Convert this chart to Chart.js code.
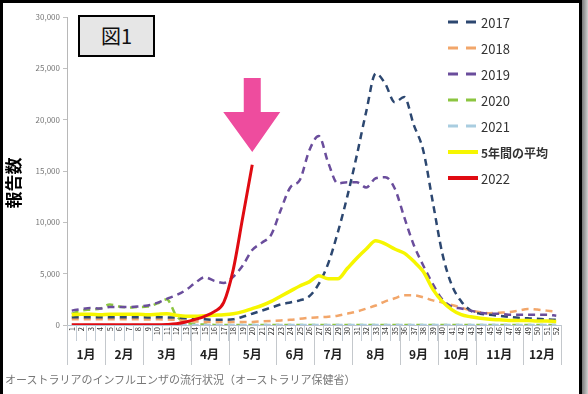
<!DOCTYPE html>
<html>
<head>
<meta charset="utf-8">
<script src="https://cdn.jsdelivr.net/npm/chart.js@4/dist/chart.umd.min.js"></script>
<style>
html, body { margin:0; padding:0; background:#fff; width:588px; height:394px; overflow:hidden;
  font-family:"Noto Sans CJK JP","Noto Sans",sans-serif; }
#frame { position:absolute; left:0; top:0; width:576px; height:400px; border:3px solid #000; border-bottom:none; }
#shadow { position:absolute; left:582px; top:0; width:6px; height:394px; background:linear-gradient(to right,#777,#d0d0d0); }
#chart { position:absolute; left:0; top:0; }
#fig { position:absolute; left:78px; top:15px; width:73px; height:38px; border:2px solid #000; background:#e6e6e6;
  font-size:20px; line-height:38px; text-align:center; color:#111; }
#cap { position:absolute; left:5px; top:371px; font-size:11px; color:#777; white-space:nowrap; }
</style>
</head>
<body>
<div id="frame"></div>
<div id="shadow"></div>
<canvas id="chart" width="580" height="372"></canvas>
<div id="fig">図1</div>
<div id="cap">オーストラリアのインフルエンザの流行状況（オーストラリア保健省）</div>
<script>
// Data (weekly reports)
const weeks = ['1','2','3','4','5','6','7','8','9','10','11','12','13','14','15','16','17','18','19','20',
  '21','22','23','24','25','26','27','28','29','30','31','32','33','34','35','36','37','38','39','40',
  '41','42','43','44','45','46','47','48','49','50','51','52'];
const months = ['1月','2月','3月','4月','5月','6月','7月','8月','9月','10月','11月','12月'];
const monthWeeks = [4,4,5,4,5,4,4,5,4,4,5,4];
const yTicks = [0,5000,10000,15000,20000,25000,30000];

const y2017 = [750,750,760,750,750,760,750,750,740,750,740,720,650,600,550,500,500,550,800,1100,
  1400,1700,2000,2200,2400,2800,4000,6000,9000,12500,16500,20800,24500,23500,21700,22200,19500,17000,12000,7000,
  3900,2300,1400,1100,1000,900,800,700,650,600,550,500];
const y2018 = [550,550,560,550,550,560,550,550,540,550,540,500,400,350,300,300,300,300,300,300,
  350,400,450,500,600,700,750,800,900,1100,1300,1600,1900,2300,2600,2900,2900,2700,2400,2200,
  1950,1700,1400,1250,1150,1200,1250,1400,1550,1500,1400,1300];
const y2019 = [1400,1550,1650,1600,1750,1750,1750,1800,1900,2150,2550,2900,3400,4100,4650,4300,4100,4700,5800,7300,
  8000,8800,11200,13400,14100,17000,18400,15800,13800,13900,13900,13400,14300,14400,13300,10500,7800,5800,4000,2500,
  1800,1600,1400,1200,1100,1100,1000,1000,1000,1000,1000,900];
const y2020 = [1100,1400,1500,1600,2000,1800,1700,1750,1800,2100,2500,900,250,100,40,10,0,0,0,0,
  0,0,0,0,0,0,0,0,0,0,0,0,0,0,0,0,0,0,0,0,
  0,0,0,0,0,0,0,0,0,0,0,0];
const y2021 = [0,0,0,0,0,0,0,0,0,0,0,0,0,0,0,0,0,0,0,0,
  0,0,0,0,0,0,0,0,0,0,0,0,0,0,0,0,0,0,0,0,
  0,0,0,0,0,0,0,0,0,0,0,0];
const avg5 = [1000,1050,1050,1000,1050,1050,1050,1050,1000,1050,1100,950,850,850,900,950,1000,1100,1300,1600,
  1900,2300,2800,3300,3800,4200,4800,4500,4500,5500,6500,7400,8200,7900,7400,7000,6200,5200,3500,2300,
  1500,1000,800,650,550,500,450,450,450,400,400,350];
const y2022 = [20,20,20,20,20,20,20,20,20,20,50,120,300,550,850,1300,2200,5400,10500,15600];

const FONT = '"Noto Sans CJK JP","Noto Sans",sans-serif';

function ds(label, data, color, width, dash, order){
  return {
    label: label, data: data, borderColor: color, backgroundColor: color,
    borderWidth: width, borderDash: dash, pointRadius: 0,
    cubicInterpolationMode: 'monotone', fill: false, order: order
  };
}

//-----LEGEND, MONTHS, ARROW, AXIS TITLE
const extras = {
  id: 'extras',
  afterDraw(chart){
    const ctx = chart.ctx;
    const a = chart.chartArea;
    const x = chart.scales.x;
    const step = x.getPixelForValue(1) - x.getPixelForValue(0);
    ctx.save();

    // month separators and labels
    ctx.strokeStyle = '#c4c8cc';
    ctx.lineWidth = 1;
    ctx.fillStyle = '#222';
    ctx.font = 'bold 12px ' + FONT;
    ctx.textAlign = 'center';
    ctx.textBaseline = 'middle';
    let start = 0;
    for (let m = 0; m < months.length; m++){
      const end = start + monthWeeks[m];
      const left = x.getPixelForValue(start) - step / 2;
      const right = x.getPixelForValue(end - 1) + step / 2;
      ctx.beginPath();
      ctx.moveTo(Math.round(left) + 0.5, a.bottom);
      ctx.lineTo(Math.round(left) + 0.5, a.bottom + 40);
      if (m === months.length - 1){
        ctx.moveTo(Math.round(right) + 0.5, a.bottom);
        ctx.lineTo(Math.round(right) + 0.5, a.bottom + 40);
      }
      ctx.stroke();
      ctx.fillText(months[m], (left + right) / 2, a.bottom + 29);
      start = end;
    }

    // y axis title
    ctx.save();
    ctx.translate(14, 183);
    ctx.rotate(-Math.PI / 2);
    ctx.fillStyle = '#000';
    ctx.font = 'bold 17px ' + FONT;
    ctx.fillText('報告数', 0, 0);
    ctx.restore();

    // pink arrow over the last 2022 point
    const cx = x.getPixelForValue(y2022.length - 1);
    ctx.fillStyle = '#ee4c9e';
    ctx.beginPath();
    ctx.moveTo(cx - 8.5, 78);
    ctx.lineTo(cx + 8.5, 78);
    ctx.lineTo(cx + 8.5, 112);
    ctx.lineTo(cx + 28, 112);
    ctx.lineTo(cx, 152);
    ctx.lineTo(cx - 29, 112);
    ctx.lineTo(cx - 8.5, 112);
    ctx.closePath();
    ctx.fill();

    // legend
    ctx.textAlign = 'left';
    chart.data.datasets.forEach(function(d, i){
      const yy = 22 + i * 26;
      ctx.beginPath();
      ctx.strokeStyle = d.borderColor;
      ctx.lineWidth = d.borderDash.length ? 3 : 4;
      ctx.setLineDash(d.borderDash.length ? [10, 8] : []);
      ctx.moveTo(448, yy);
      ctx.lineTo(478, yy);
      ctx.stroke();
      ctx.setLineDash([]);
      ctx.fillStyle = '#333';
      ctx.font = (d.label === '5年間の平均' ? 'bold 12px ' : '13px ') + FONT;
      ctx.fillText(d.label, 481, yy + 1);
    });
    ctx.restore();
  }
};

const chart = new Chart(document.getElementById('chart').getContext('2d'), {
  type: 'line',
  data: {
    labels: weeks,
    datasets: [
      ds('2017', y2017, '#2c4770', 2.5, [7,5], 3),
      ds('2018', y2018, '#f2a66a', 2.5, [7,5], 4),
      ds('2019', y2019, '#6a4d9c', 2.5, [7,5], 2),
      ds('2020', y2020, '#8cc540', 2.5, [7,5], 6),
      ds('2021', y2021, '#a9cde0', 2.5, [7,5], 5),
      ds('5年間の平均', avg5, '#f6f600', 3.5, [], 1),
      ds('2022', y2022, '#e00b12', 3, [], 0)
    ]
  },
  plugins: [extras],
  options: {
    responsive: false,
    animation: false,
    layout: { padding: { left: 0, top: 17, right: 19, bottom: 2 } },
    plugins: { legend: { display: false }, tooltip: { enabled: false } },
    scales: {
      x: {
        offset: true,
        grid: { drawOnChartArea: false, offset: true, tickLength: 16, color: '#c4ccd4' },
        border: { color: '#b8c4d0' },
        ticks: { autoSkip: false, maxRotation: 90, minRotation: 90, padding: -14,
          font: { size: 7.5, family: FONT }, color: '#333' },
        afterFit: function(s){ s.height = 45; }
      },
      y: {
        min: 0, max: 30000,
        afterBuildTicks: function(s){ s.ticks = yTicks.map(v => ({ value: v })); },
        grid: { drawOnChartArea: false, tickLength: 4, color: '#c0c0c0' },
        border: { color: '#b8b8b8' },
        ticks: { padding: 3, font: { size: 8, family: FONT }, color: '#777',
          callback: v => v.toLocaleString('en-US') },
        afterFit: function(s){ s.width = 67; }
      }
    }
  }
});
</script>
</body>
</html>
